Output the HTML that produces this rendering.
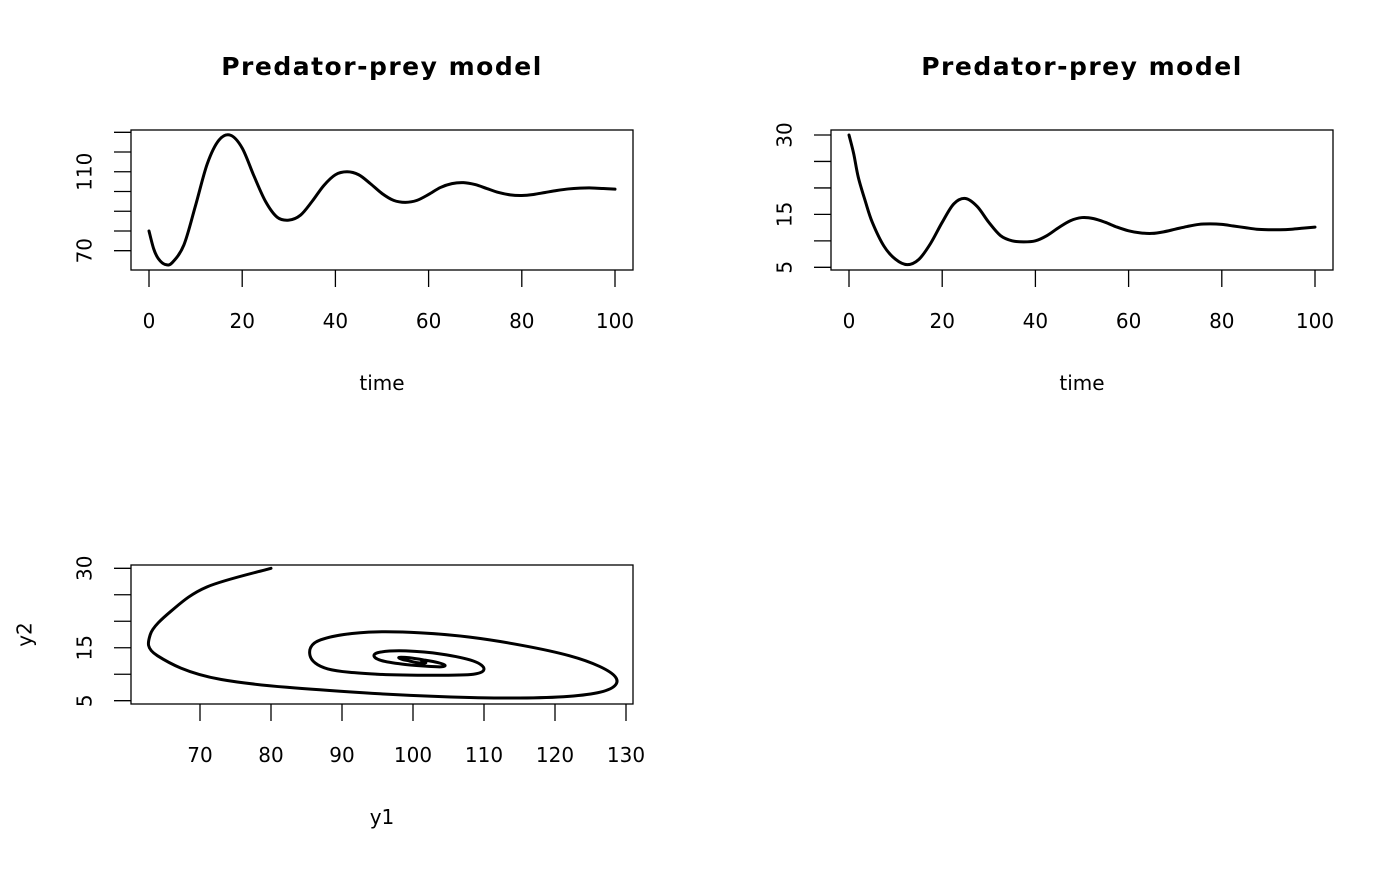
<!DOCTYPE html>
<html><head><meta charset="utf-8"><style>
body{margin:0;background:#fff;}
svg text{font-family:"DejaVu Sans","Liberation Sans",sans-serif;fill:#000;}
</style></head><body>
<svg id="c" width="1400" height="866" xmlns="http://www.w3.org/2000/svg"></svg>
<script>
const times=[0,1,2,3.5,5,7.5,10,12.5,15,17.5,20,22.5,25,27.5,30,32.5,35,37.5,40,42.5,45,47.5,50,52.5,55,57.5,60,62.5,65,67.5,70,72.5,75,77.5,80,82.5,85,87.5,90,92.5,95,97.5,100];
const prey=[80,71,66,63,64,73,93,114,126,128.5,122,108,95,87,85.5,88,95,103,108.5,110,108.5,104,99,95.5,94.5,95.5,98.5,102,104,104.5,103.5,101.5,99.5,98.3,98,98.5,99.5,100.5,101.3,101.7,101.8,101.5,101.2];
const predator=[30,26.5,22,17.5,13.5,9,6.5,5.5,6.5,9.5,13.5,17,18,16.5,13.5,11,10,9.8,10,11,12.5,13.8,14.4,14.2,13.5,12.6,11.9,11.5,11.4,11.7,12.2,12.7,13.1,13.2,13.1,12.8,12.5,12.2,12.1,12.1,12.2,12.4,12.6];
const timeTicks=[0,20,40,60,80,100];
const preyTicks=[70,80,90,100,110,120,130];
const preyLabels=["70","","","","110","",""];
const predTicks=[5,10,15,20,25,30];
const predLabels=["5","","15","","","30"];
const y1Ticks=[70,80,90,100,110,120,130];

const svg=document.getElementById('c');
const NS='http://www.w3.org/2000/svg';
function mk(tag,attrs,parent){const e=document.createElementNS(NS,tag);for(const k in attrs)e.setAttribute(k,attrs[k]);(parent||svg).appendChild(e);return e;}
function lin(d0,d1,r0,r1){return v=>r0+(v-d0)*(r1-r0)/(d1-d0);}
function smooth(pts){let d='M'+pts[0][0].toFixed(2)+','+pts[0][1].toFixed(2);
 for(let i=0;i<pts.length-1;i++){const p0=pts[Math.max(0,i-1)],p1=pts[i],p2=pts[i+1],p3=pts[Math.min(pts.length-1,i+2)];
 const c1=[p1[0]+(p2[0]-p0[0])/6,p1[1]+(p2[1]-p0[1])/6],c2=[p2[0]-(p3[0]-p1[0])/6,p2[1]-(p3[1]-p1[1])/6];
 d+='C'+c1[0].toFixed(2)+','+c1[1].toFixed(2)+' '+c2[0].toFixed(2)+','+c2[1].toFixed(2)+' '+p2[0].toFixed(2)+','+p2[1].toFixed(2);}return d;}

function panel(o){
 const g=mk('g',{});
 
 
 if(o.title){const t=mk('text',{x:(o.l+o.r)/2,y:o.t-55,'text-anchor':'middle','font-size':'25','font-weight':'bold','letter-spacing':'1.5'},g);t.textContent=o.title;
  }
 const box=mk('rect',{x:o.l,y:o.t,width:o.r-o.l,height:o.b-o.t,fill:'none',stroke:'#000','stroke-width':1.3},g);
 
 const xa=mk('g',{},g);
 o.xTicks.forEach(v=>{mk('line',{x1:o.sx(v),x2:o.sx(v),y1:o.b,y2:o.b+17,stroke:'#000','stroke-width':1.3},xa);
  const t=mk('text',{x:o.sx(v),y:o.b+58,'text-anchor':'middle','font-size':'20'},xa);t.textContent=v;
  });
 const xl=mk('text',{x:(o.l+o.r)/2,y:o.b+120,'text-anchor':'middle','font-size':'20'},g);xl.textContent=o.xlab;
 
 const ya=mk('g',{},g);
 o.yTicks.forEach((v,i)=>{mk('line',{x1:o.l-17,x2:o.l,y1:o.sy(v),y2:o.sy(v),stroke:'#000','stroke-width':1.3},ya);
  if(o.yLabels[i]){const y=o.sy(v);const x=o.l-45;const t=mk('text',{x:x,y:y,'text-anchor':'middle','font-size':'20',transform:'rotate(-90 '+x+' '+y+')','dominant-baseline':'middle'},ya);t.textContent=o.yLabels[i];
  }});
 if(o.ylab){const x=o.l-105,y=(o.t+o.b)/2;const t=mk('text',{x:x,y:y,'text-anchor':'middle','font-size':'20',transform:'rotate(-90 '+x+' '+y+')','dominant-baseline':'middle'},g);t.textContent=o.ylab;
  }
 const pts=o.xs.map((x,i)=>[o.sx(x),o.sy(o.ys[i])]);
 const p=mk('path',{d:smooth(pts),fill:'none',stroke:'#000','stroke-width':3,'stroke-linejoin':'round','stroke-linecap':'round'},g);
 
}
panel({name:'prey-time-panel',title:'Predator-prey model',l:131,r:633,t:130,b:270,sx:lin(0,100,149,615),sy:lin(70,130,250.7,132.3),xTicks:timeTicks,yTicks:preyTicks,yLabels:preyLabels,xlab:'time',xs:times,ys:prey});
panel({name:'predator-time-panel',title:'Predator-prey model',l:831,r:1333,t:130,b:270,sx:lin(0,100,849,1315),sy:lin(5,30,267.3,135),xTicks:timeTicks,yTicks:predTicks,yLabels:predLabels,xlab:'time',xs:times,ys:predator});
panel({name:'phase-panel',l:131,r:633,t:565,b:704,sx:lin(70,130,200,626),sy:lin(5,30,700.7,568.3),xTicks:y1Ticks,yTicks:predTicks,yLabels:predLabels,xlab:'y1',ylab:'y2',xs:prey,ys:predator});
</script>
</body></html>
